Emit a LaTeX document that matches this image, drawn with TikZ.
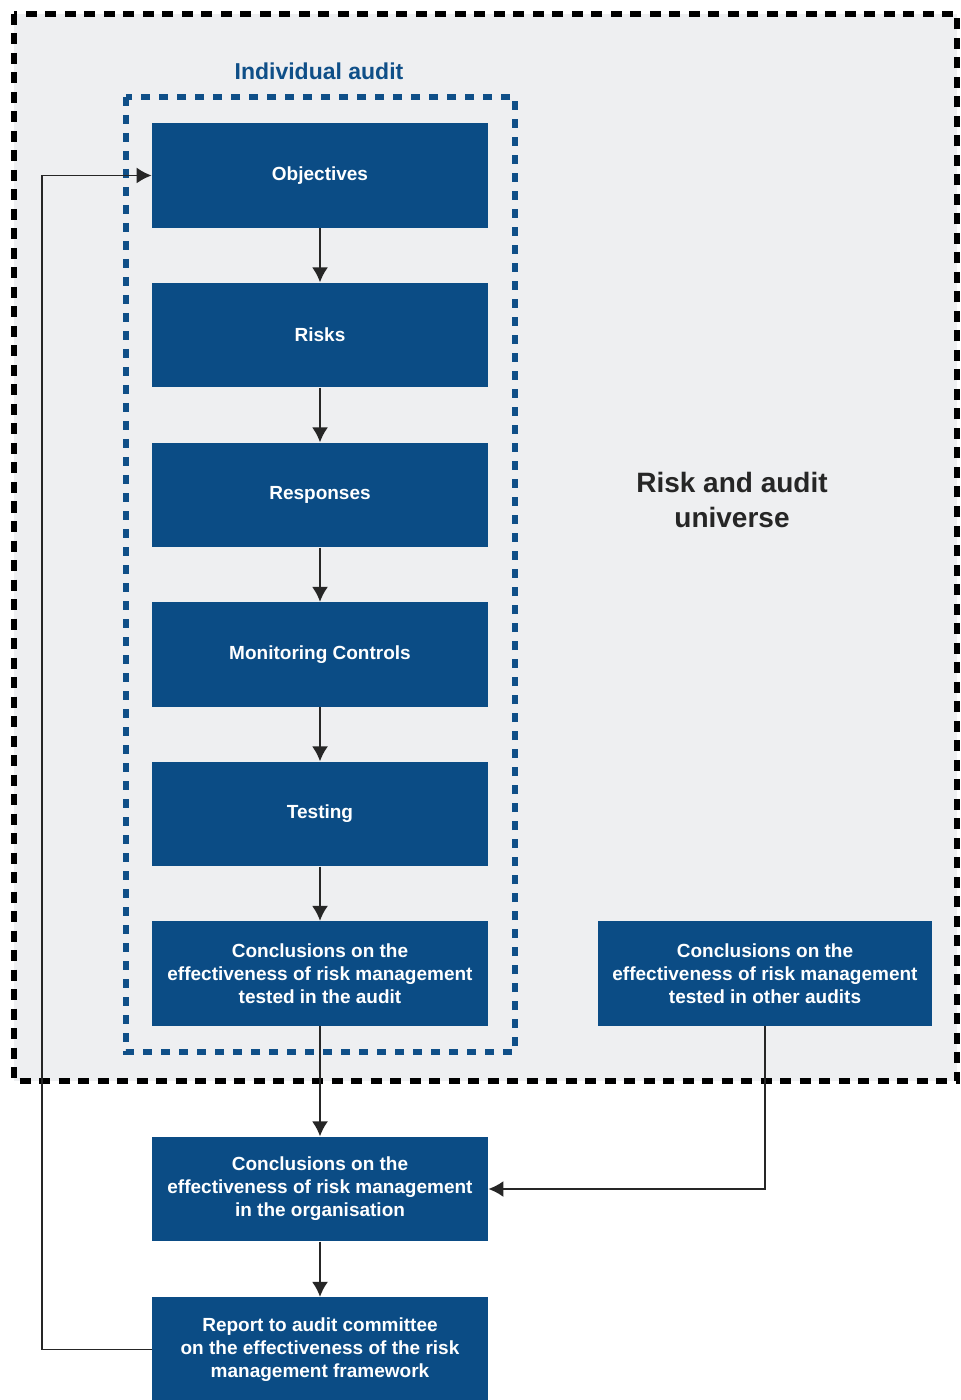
\documentclass[tikz,border=0pt]{standalone}
\usepackage{fontspec}
\setmainfont{Liberation Sans}
\usetikzlibrary{arrows.meta}
\definecolor{boxblue}{HTML}{0B4C85}
\definecolor{frameblue}{HTML}{0F4F88}
\definecolor{universe}{HTML}{EEEFF1}
\definecolor{linegray}{HTML}{262626}
\tikzset{
  stepbox/.style={fill=boxblue, text=white, inner sep=0pt,
    minimum width=168pt, minimum height=52.25pt, align=center,
    font=\fontsize{9.5pt}{11.5pt}\selectfont\bfseries},
  arr/.style={draw=linegray, line width=0.9pt, -{Latex[length=7.5pt,width=8pt]}},
}
\begin{document}
\begin{tikzpicture}[x=0.5pt, y=-0.5pt]
\useasboundingbox (0,0) rectangle (960,1400);
\fill[white] (0,0) rectangle (960,1400);

% risk and audit universe
\draw[line width=3pt, dash pattern=on 5.5pt off 4.25pt, fill=universe]
  (14,14) rectangle (957,1081);
\node[font=\fontsize{14pt}{17.5pt}\selectfont\bfseries, text=black!85, align=center]
  (univ) at (732,500) {Risk and audit\\universe};

% individual audit frame
\draw[line width=3pt, dash pattern=on 4.5pt off 4.5pt, draw=frameblue]
  (126,97) rectangle (515,1052);
\node[font=\fontsize{11.5pt}{14pt}\selectfont\bfseries, text=frameblue]
  (indiv) at (319,71) {Individual audit};

% process steps
\node[stepbox] (obj) at (320,175.5) {Objectives};
\node[stepbox] (risk) at (320,335) {Risks};
\node[stepbox] (resp) at (320,495) {Responses};
\node[stepbox] (mon) at (320,654.5) {Monitoring Controls};
\node[stepbox] (test) at (320,814) {Testing};
\node[stepbox] (concl) at (320,973.5) {Conclusions on the\\effectiveness of risk management\\tested in the audit};
\node[stepbox, minimum width=167pt] (other) at (765,973.5) {Conclusions on the\\effectiveness of risk management\\tested in other audits};
\node[stepbox] (org) at (320,1189) {Conclusions on the\\effectiveness of risk management\\in the organisation};
\node[stepbox] (rep) at (320,1349.5) {Report to audit committee\\on the effectiveness of the risk\\management framework};

% connectors
\draw[arr] (obj) -- (risk);
\draw[arr] (risk) -- (resp);
\draw[arr] (resp) -- (mon);
\draw[arr] (mon) -- (test);
\draw[arr] (test) -- (concl);
\draw[arr] (concl) -- (org);
\draw[arr] (org) -- (rep);
\draw[arr] (other.south) |- (org.east);
\draw[arr] (rep.west) -- ++(-110,0) |- (obj.west);
\end{tikzpicture}
\end{document}
